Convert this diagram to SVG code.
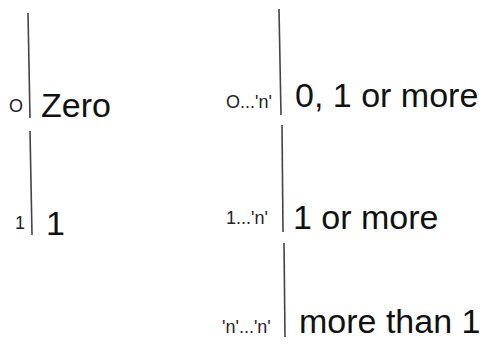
<svg xmlns="http://www.w3.org/2000/svg" width="487" height="347" viewBox="0 0 487 347">
<style>
.ln{stroke:#444;stroke-width:1.6;fill:none}
.big{font-family:"Liberation Sans",Arial,sans-serif;font-size:34px;fill:#111}
.sm{font-family:"Liberation Sans",Arial,sans-serif;font-size:18px;fill:#222}
</style>
<rect width="487" height="347" fill="#fff"/>
<g id="connectors">
<line class="ln" x1="28" y1="13" x2="30" y2="118"/>
<line class="ln" x1="30" y1="131" x2="32" y2="235"/>
<line class="ln" x1="279" y1="9" x2="281" y2="115"/>
<line class="ln" x1="282" y1="125" x2="283" y2="232"/>
<line class="ln" x1="284" y1="243" x2="285" y2="337"/>
</g>
<g id="zero">
<text class="sm" x="9" y="112">O</text>
<text class="big" x="41" y="117">Zero</text>
</g>
<g id="one">
<text class="sm" x="15" y="229">1</text>
<text class="big" x="46" y="235">1</text>
</g>
<g id="zero-one-more">
<text class="sm" x="226" y="108">O...'n'</text>
<text class="big" x="295" y="107">0, 1 or more</text>
</g>
<g id="one-more">
<text class="sm" x="226" y="224">1...'n'</text>
<text class="big" x="293" y="229">1 or more</text>
</g>
<g id="more-than-one">
<text class="sm" x="222" y="333">'n'...'n'</text>
<text class="big" x="299" y="333">more than 1</text>
</g>
</svg>
